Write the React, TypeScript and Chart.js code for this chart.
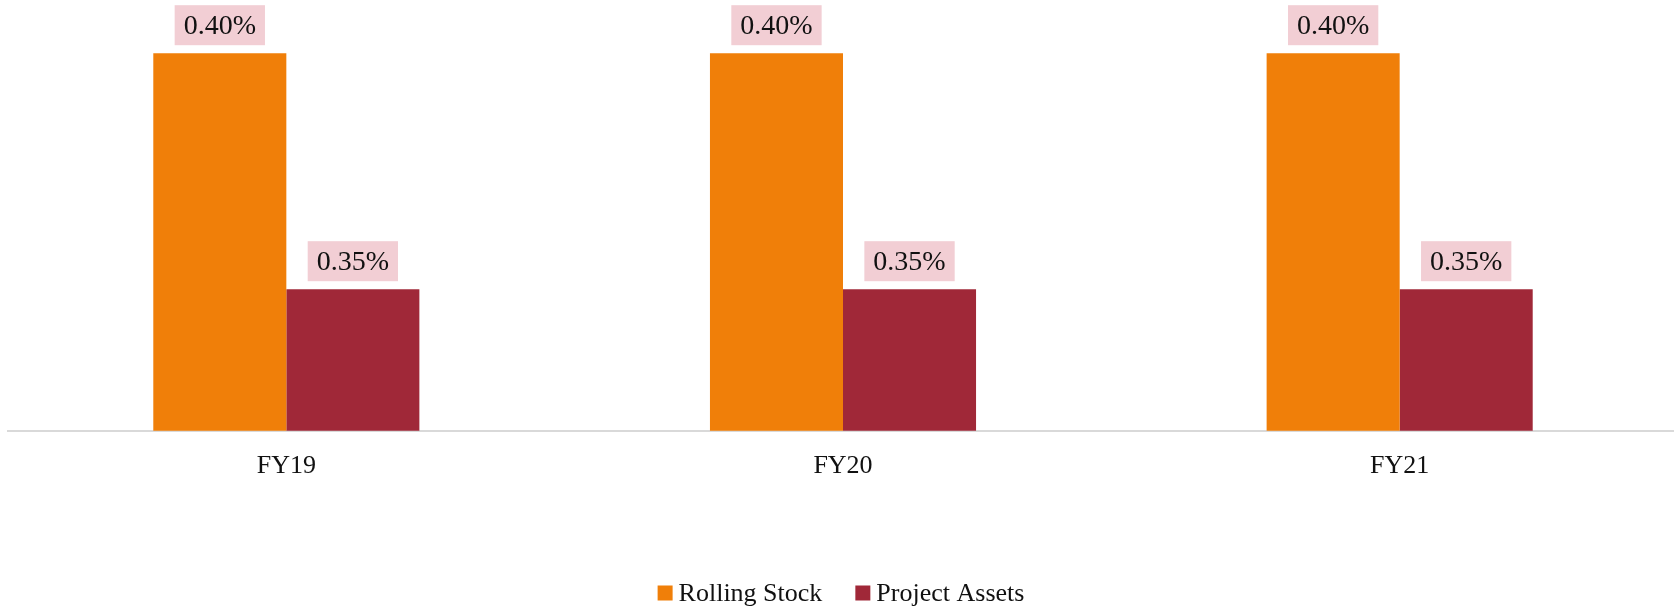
import React, { useEffect, useRef } from "react";
import { Chart, registerables } from "chart.js";

Chart.register(...registerables);

const categories = ["FY19", "FY20", "FY21"];
const rollingStock = [0.4, 0.4, 0.4];
const projectAssets = [0.35, 0.35, 0.35];
const seriesNames = ["Rolling Stock", "Project Assets"];
const seriesColors = ["#F07F09", "#A02838"];

const FONT = "'Liberation Serif', 'Times New Roman', serif";

const labelPlugin = {
  id: "pinkLabels",
  afterDatasetsDraw(chart: any) {
    const ctx = chart.ctx;
    ctx.save();
    ctx.font = `28px ${FONT}`;
    ctx.textAlign = "center";
    ctx.textBaseline = "middle";
    chart.data.datasets.forEach((ds: any, di: number) => {
      const meta = chart.getDatasetMeta(di);
      meta.data.forEach((el: any, i: number) => {
        const txt = Number(ds.data[i]).toFixed(2) + "%";
        const w = ctx.measureText(txt).width + 18;
        const h = 40;
        const bottom = el.y - 8;
        ctx.fillStyle = "#F2CED4";
        ctx.fillRect(el.x - w / 2, bottom - h, w, h);
        ctx.fillStyle = "#111";
        ctx.fillText(txt, el.x, bottom - h / 2 + 1);
      });
    });
    ctx.restore();
  },
};

const legendPlugin = {
  id: "customLegend",
  afterDraw(chart: any) {
    const ctx = chart.ctx;
    ctx.save();
    ctx.font = `26px ${FONT}`;
    ctx.textBaseline = "middle";
    ctx.textAlign = "left";
    const box = 15;
    const gap = 6;
    const itemGap = 33;
    const ds = chart.data.datasets;
    const widths = ds.map((d: any) => box + gap + ctx.measureText(d.label).width);
    const total = widths.reduce((a: number, b: number) => a + b, 0) + itemGap * (ds.length - 1);
    const cx = (chart.chartArea.left + chart.chartArea.right) / 2 - 2;
    let x = cx - total / 2;
    const y = 593;
    ds.forEach((d: any, i: number) => {
      ctx.fillStyle = d.backgroundColor;
      ctx.fillRect(x, y - box / 2, box, box);
      ctx.fillStyle = "#111";
      ctx.fillText(d.label, x + box + gap, y + 1);
      x += widths[i] + itemGap;
    });
    ctx.restore();
  },
};

export default function App() {
  const ref = useRef<HTMLCanvasElement>(null);
  useEffect(() => {
    if (!ref.current) return;
    const chart = new Chart(ref.current, {
      type: "bar",
      data: {
        labels: categories,
        datasets: [
          {
            label: seriesNames[0],
            data: rollingStock,
            backgroundColor: seriesColors[0],
            categoryPercentage: 0.478,
            barPercentage: 1,
          },
          {
            label: seriesNames[1],
            data: projectAssets,
            backgroundColor: seriesColors[1],
            categoryPercentage: 0.478,
            barPercentage: 1,
          },
        ],
      },
      options: {
        animation: false,
        responsive: false,
        maintainAspectRatio: false,
        layout: { padding: { left: 8, right: 2, top: 6, bottom: 107 } },
        plugins: {
          legend: { display: false },
          tooltip: { enabled: false },
          title: { display: false },
        },
        scales: {
          x: {
            grid: { display: false, drawTicks: false },
            border: { display: true, color: "#D9D9D9", width: 2 },
            ticks: {
              color: "#111",
              font: { family: FONT, size: 26 },
              padding: 20,
            },
          },
          y: {
            display: false,
            min: 0.32,
            max: 0.41,
          },
        },
      },
      plugins: [labelPlugin, legendPlugin],
    });
    return () => chart.destroy();
  }, []);
  return (
    <div
      style={{
        position: "fixed",
        left: 0,
        top: 0,
        width: 1674,
        height: 609,
        overflow: "hidden",
        background: "#fff",
      }}
    >
      <canvas ref={ref} width={1680} height={609} style={{ display: "block" }} />
    </div>
  );
}
